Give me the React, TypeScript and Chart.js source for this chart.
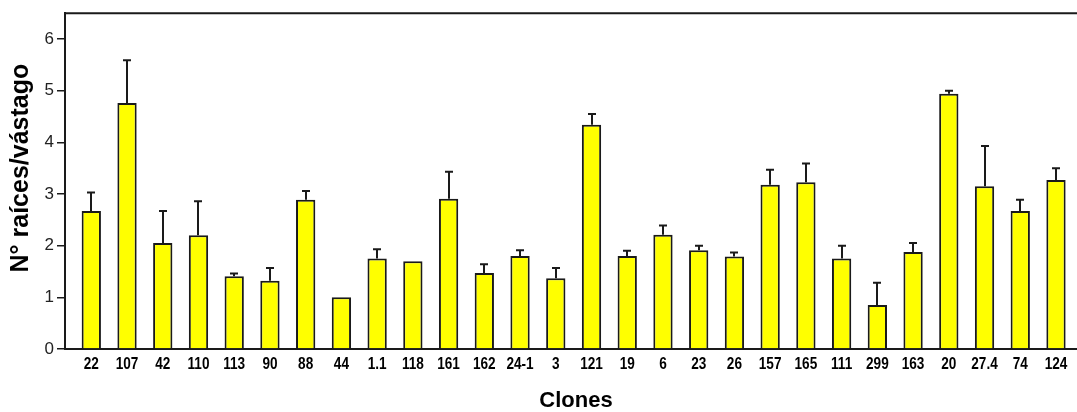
import React, { useEffect, useRef } from "react";
import { Chart, registerables } from "chart.js";

Chart.register(...registerables);

const clones = ["22", "107", "42", "110", "113", "90", "88", "44", "1.1", "118", "161", "162", "24-1", "3", "121", "19", "6", "23", "26", "157", "165", "111", "299", "163", "20", "27.4", "74", "124"];
const means = [2.67, 4.76, 2.05, 2.2, 1.41, 1.32, 2.89, 1.0, 1.75, 1.7, 2.91, 1.47, 1.8, 1.37, 4.34, 1.8, 2.21, 1.91, 1.79, 3.18, 3.23, 1.75, 0.85, 1.88, 4.94, 3.15, 2.67, 3.27];
const errors = [0.36, 0.83, 0.62, 0.66, 0.05, 0.25, 0.17, 0, 0.18, 0, 0.52, 0.17, 0.11, 0.2, 0.21, 0.1, 0.18, 0.09, 0.08, 0.29, 0.36, 0.25, 0.43, 0.17, 0.06, 0.78, 0.22, 0.23];
const yTicks = [0, 1, 2, 3, 4, 5, 6];
const yTitle = "N° raíces/vástago";
const xTitle = "Clones";

const INK = "#1a1a1a";

const errorBarPlugin = {
  id: "errorBars",
  afterDatasetsDraw(chart: any) {
    const meta = chart.getDatasetMeta(0);
    const yScale = chart.scales.y;
    const ctx = chart.ctx;
    ctx.save();
    ctx.strokeStyle = INK;
    ctx.lineWidth = 2;
    meta.data.forEach((bar: any, i: number) => {
      const e = errors[i];
      if (!e) return;
      const top = yScale.getPixelForValue(means[i] + e);
      const x = Math.round(bar.x);
      ctx.beginPath();
      ctx.moveTo(x, bar.y);
      ctx.lineTo(x, top);
      ctx.moveTo(x - 4, top);
      ctx.lineTo(x + 4, top);
      ctx.stroke();
    });
    ctx.restore();
  },
};

const framePlugin = {
  id: "frameAndTitles",
  afterDraw(chart: any) {
    const { ctx, chartArea } = chart;
    const xScale = chart.scales.x;
    ctx.save();
    ctx.strokeStyle = INK;
    ctx.lineWidth = 2;
    ctx.beginPath();
    ctx.moveTo(chartArea.left - 1, chartArea.top);
    ctx.lineTo(chartArea.right, chartArea.top);
    ctx.stroke();
    ctx.restore();

    // condensed bold category labels
    ctx.save();
    ctx.fillStyle = "#000";
    ctx.textAlign = "center";
    ctx.textBaseline = "middle";
    ctx.font = "bold 17px 'Liberation Sans', Arial, sans-serif";
    const labelY = chartArea.bottom + 15;
    clones.forEach((label, i) => {
      const px = xScale.getPixelForValue(i);
      ctx.save();
      ctx.translate(px, labelY);
      ctx.scale(0.8, 1);
      ctx.fillText(label, 0, 0);
      ctx.restore();
    });
    ctx.restore();

    ctx.save();
    ctx.fillStyle = "#000";
    ctx.textAlign = "center";
    ctx.textBaseline = "middle";
    ctx.font = "bold 25px 'Liberation Sans', Arial, sans-serif";
    ctx.translate(chartArea.left - 44, (chartArea.top + chartArea.bottom) / 2 - 13);
    ctx.rotate(-Math.PI / 2);
    ctx.fillText(yTitle, 0, 0);
    ctx.restore();

    ctx.save();
    ctx.fillStyle = "#000";
    ctx.textAlign = "center";
    ctx.textBaseline = "middle";
    ctx.font = "bold 22px 'Liberation Sans', Arial, sans-serif";
    ctx.fillText(xTitle, (chartArea.left + chartArea.right) / 2 + 5, chartArea.bottom + 52);
    ctx.restore();
  },
};

export default function App() {
  const canvasRef = useRef<HTMLCanvasElement | null>(null);

  useEffect(() => {
    const canvas = canvasRef.current;
    if (!canvas) return;
    const chart = new Chart(canvas, {
      type: "bar",
      data: {
        datasets: [
          {
            data: means.map((v, i) => ({ x: i, y: v })),
            backgroundColor: "#ffff00",
            borderColor: INK,
            borderWidth: 2,
            borderSkipped: "bottom",
            barPercentage: 0.54,
            categoryPercentage: 1,
          },
        ],
      },
      options: {
        responsive: false,
        animation: false,
        devicePixelRatio: 1,
        layout: { padding: { top: 11, left: 0, right: 0, bottom: 0 } },
        plugins: {
          legend: { display: false },
          tooltip: { enabled: false },
          title: { display: false },
        },
        scales: {
          x: {
            type: "linear",
            offset: false,
            min: -0.736,
            max: 27.588,
            grid: { display: false, drawTicks: false, offset: false },
            border: { display: true, color: INK, width: 2 },
            afterBuildTicks: (scale: any) => {
              scale.ticks = clones.map((_, i) => ({ value: i }));
            },
            afterFit: (scale: any) => {
              scale.height = 63;
            },
            ticks: { display: false },
          },
          y: {
            min: 0,
            max: 6.5,
            grid: { drawOnChartArea: false, drawTicks: true, tickLength: 8, color: INK, lineWidth: 1.5 },
            border: { display: true, color: INK, width: 2 },
            afterBuildTicks: (scale: any) => {
              scale.ticks = yTicks.map((v) => ({ value: v }));
            },
            afterFit: (scale: any) => {
              scale.width = 65;
            },
            ticks: {
              padding: 3,
              color: "#222",
              font: { family: "'Liberation Sans', Arial, sans-serif", size: 17 },
            },
          },
        },
      },
      plugins: [errorBarPlugin, framePlugin],
    } as any);
    return () => chart.destroy();
  }, []);

  return (
    <div style={{ position: "fixed", left: 0, top: 0, width: 1077, height: 412, background: "#fff" }}>
      <canvas ref={canvasRef} width={1077} height={412} style={{ display: "block", width: 1077, height: 412 }} />
    </div>
  );
}
